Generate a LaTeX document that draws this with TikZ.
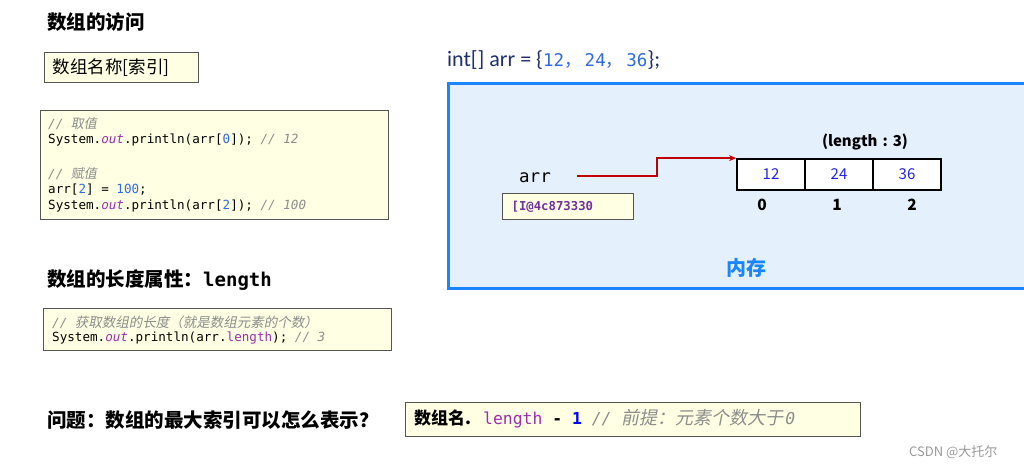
\documentclass[tikz,border=0pt]{standalone}
\usepackage{fontspec}
\setmainfont{Noto Sans CJK SC}
\setmonofont{DejaVu Sans Mono}
\newfontfamily\cjkit{Noto Sans CJK SC}[FakeSlant=0.2]
\newfontfamily\calib{Carlito}
\usetikzlibrary{arrows.meta}
\definecolor{boxfill}{HTML}{FFFFE3}
\definecolor{boxdraw}{HTML}{555555}
\definecolor{memfill}{HTML}{E4F0FC}
\definecolor{memdraw}{HTML}{1A85FF}
\definecolor{cmt}{HTML}{8C8C8C}
\definecolor{kw}{HTML}{9B2FAE}
\definecolor{num}{HTML}{2F6BE0}
\definecolor{addrc}{HTML}{7030A0}
\definecolor{navy}{HTML}{1F2F6F}
\definecolor{arrred}{HTML}{C00000}
\definecolor{cellnum}{HTML}{2323E6}
\definecolor{csdn}{HTML}{9A9A9A}
\newcommand{\fsz}[1]{\fontsize{#1}{#1}\selectfont}
\begin{document}
\begin{tikzpicture}[x=1pt,y=-1pt,
  ybox/.style={draw=boxdraw,fill=boxfill,line width=1.2pt},
  codeline/.style={anchor=west,inner sep=0pt,font=\ttfamily\fsz{12.6}},
  head/.style={anchor=west,inner sep=0pt,font=\bfseries\fsz{19.5}},
  cell/.style={draw=black,line width=1.8pt,fill=white,minimum width=68pt,minimum height=31pt,inner sep=0pt,font=\fsz{15},text=cellnum},
  idx/.style={font=\bfseries\fsz{15.5},inner sep=0pt},
  mem/.style={draw=memdraw,fill=memfill,line width=3pt}]
\useasboundingbox (0,0) rectangle (1024,469);
\fill[white] (0,0) rectangle (1024,469);

% left column
\node[head] (t1) at (47,22) {数组的访问};
\node[ybox,anchor=north west,minimum width=154pt,minimum height=30pt,inner xsep=8pt,inner ysep=0pt,text width=138pt,align=left,font=\fsz{17.5}] (b1) at (44,52) {数组名称[索引]};

\node[ybox,anchor=north west,minimum width=348pt,minimum height=109pt] (code1) at (40,110) {};
\node[codeline] (l1) at (48,124) {\textcolor{cmt}{\itshape // {\cjkit\upshape\fsz{13}取值}}};
\node[codeline] (l2) at (48,140) {System.\textcolor{kw}{\itshape out}.println(arr[\textcolor{num}{0}]); \textcolor{cmt}{\itshape // 12}};
\node[codeline] (l3) at (48,174) {\textcolor{cmt}{\itshape // {\cjkit\upshape\fsz{13}赋值}}};
\node[codeline] (l4) at (48,190) {arr[\textcolor{num}{2}] = \textcolor{num}{100};};
\node[codeline] (l5) at (48,206) {System.\textcolor{kw}{\itshape out}.println(arr[\textcolor{num}{2}]); \textcolor{cmt}{\itshape // 100}};

\node[head] (t2) at (47,280) {数组的长度属性：{\ttfamily\fsz{19}length}};

\node[ybox,anchor=north west,minimum width=348pt,minimum height=42pt] (code2) at (43,308) {};
\node[codeline] (m1) at (52,322) {\textcolor{cmt}{\itshape // {\cjkit\upshape\fsz{13.5}获取数组的长度（就是数组元素的个数）}}};
\node[codeline] (m2) at (52,338) {System.\textcolor{kw}{\itshape out}.println(arr.\textcolor{kw}{length}); \textcolor{cmt}{\itshape // 3}};

\node[head] (t3) at (47,420) {问题：数组的最大索引可以怎么表示？};

\node[ybox,anchor=north west,minimum width=455pt,minimum height=34pt] (b2) at (405,402) {};
\node[anchor=west,inner sep=0pt] (b2t) at (414,419) {{\bfseries\fsz{17}数组名.}\hspace{12pt}{\ttfamily\fsz{16.4}\textcolor{kw}{length} \textbf{-} \textcolor{blue}{\textbf{1}} \textcolor{cmt}{\itshape // {\cjkit\upshape\fsz{18}前提：元素个数大于}\hspace{2pt}0}}};

\node[anchor=west,inner sep=0pt,font=\fsz{13},text=csdn] (wm) at (909,452) {CSDN @大托尔};

% right column
\node[anchor=west,inner sep=0pt] (decl) at (447,60) {{\calib\fsz{22}\color{navy}int[] arr = \{}{\ttfamily\fsz{17.5}\color{num}12{\rmfamily ，}\hspace{3pt}24{\rmfamily ，}\hspace{3pt}36}{\calib\fsz{22}\color{navy}\};}};

\begin{scope}
\clip (0,0) rectangle (1024,469);
\node[mem,anchor=north west,minimum width=620pt,minimum height=205pt] (mem) at (447,82) {};
\end{scope}

\node[anchor=west,inner sep=0pt,font=\ttfamily\fsz{17.5}] (arr) at (519,178) {arr};
\node[ybox,anchor=north west,minimum width=131pt,minimum height=26pt,inner xsep=9pt,inner ysep=0pt,text width=113pt,align=left,font=\ttfamily\bfseries\fsz{12.3},text=addrc] (addr) at (502,193) {[I@4c873330};

\node[cell] (c0) at (771,174.5) {12};
\node[cell] (c1) at (839,174.5) {24};
\node[cell] (c2) at (907,174.5) {36};
\node[font=\bfseries\fsz{15},inner sep=0pt] (len) at (865,142) {(length\,\,:\,\,3)};
\node[idx] (i0) at (762,205) {0};
\node[idx] (i1) at (837,205) {1};
\node[idx] (i2) at (912,205) {2};

\coordinate (ast) at (577,176);
\draw[arrred,line width=2pt,-{Stealth[length=7pt,width=6pt]}] (ast) -- ++(80,0) |- (c0.north west);

\node[font=\bfseries\fsz{20},text=memdraw,inner sep=0pt] (memlbl) at (746,268) {内存};
\end{tikzpicture}
\end{document}
